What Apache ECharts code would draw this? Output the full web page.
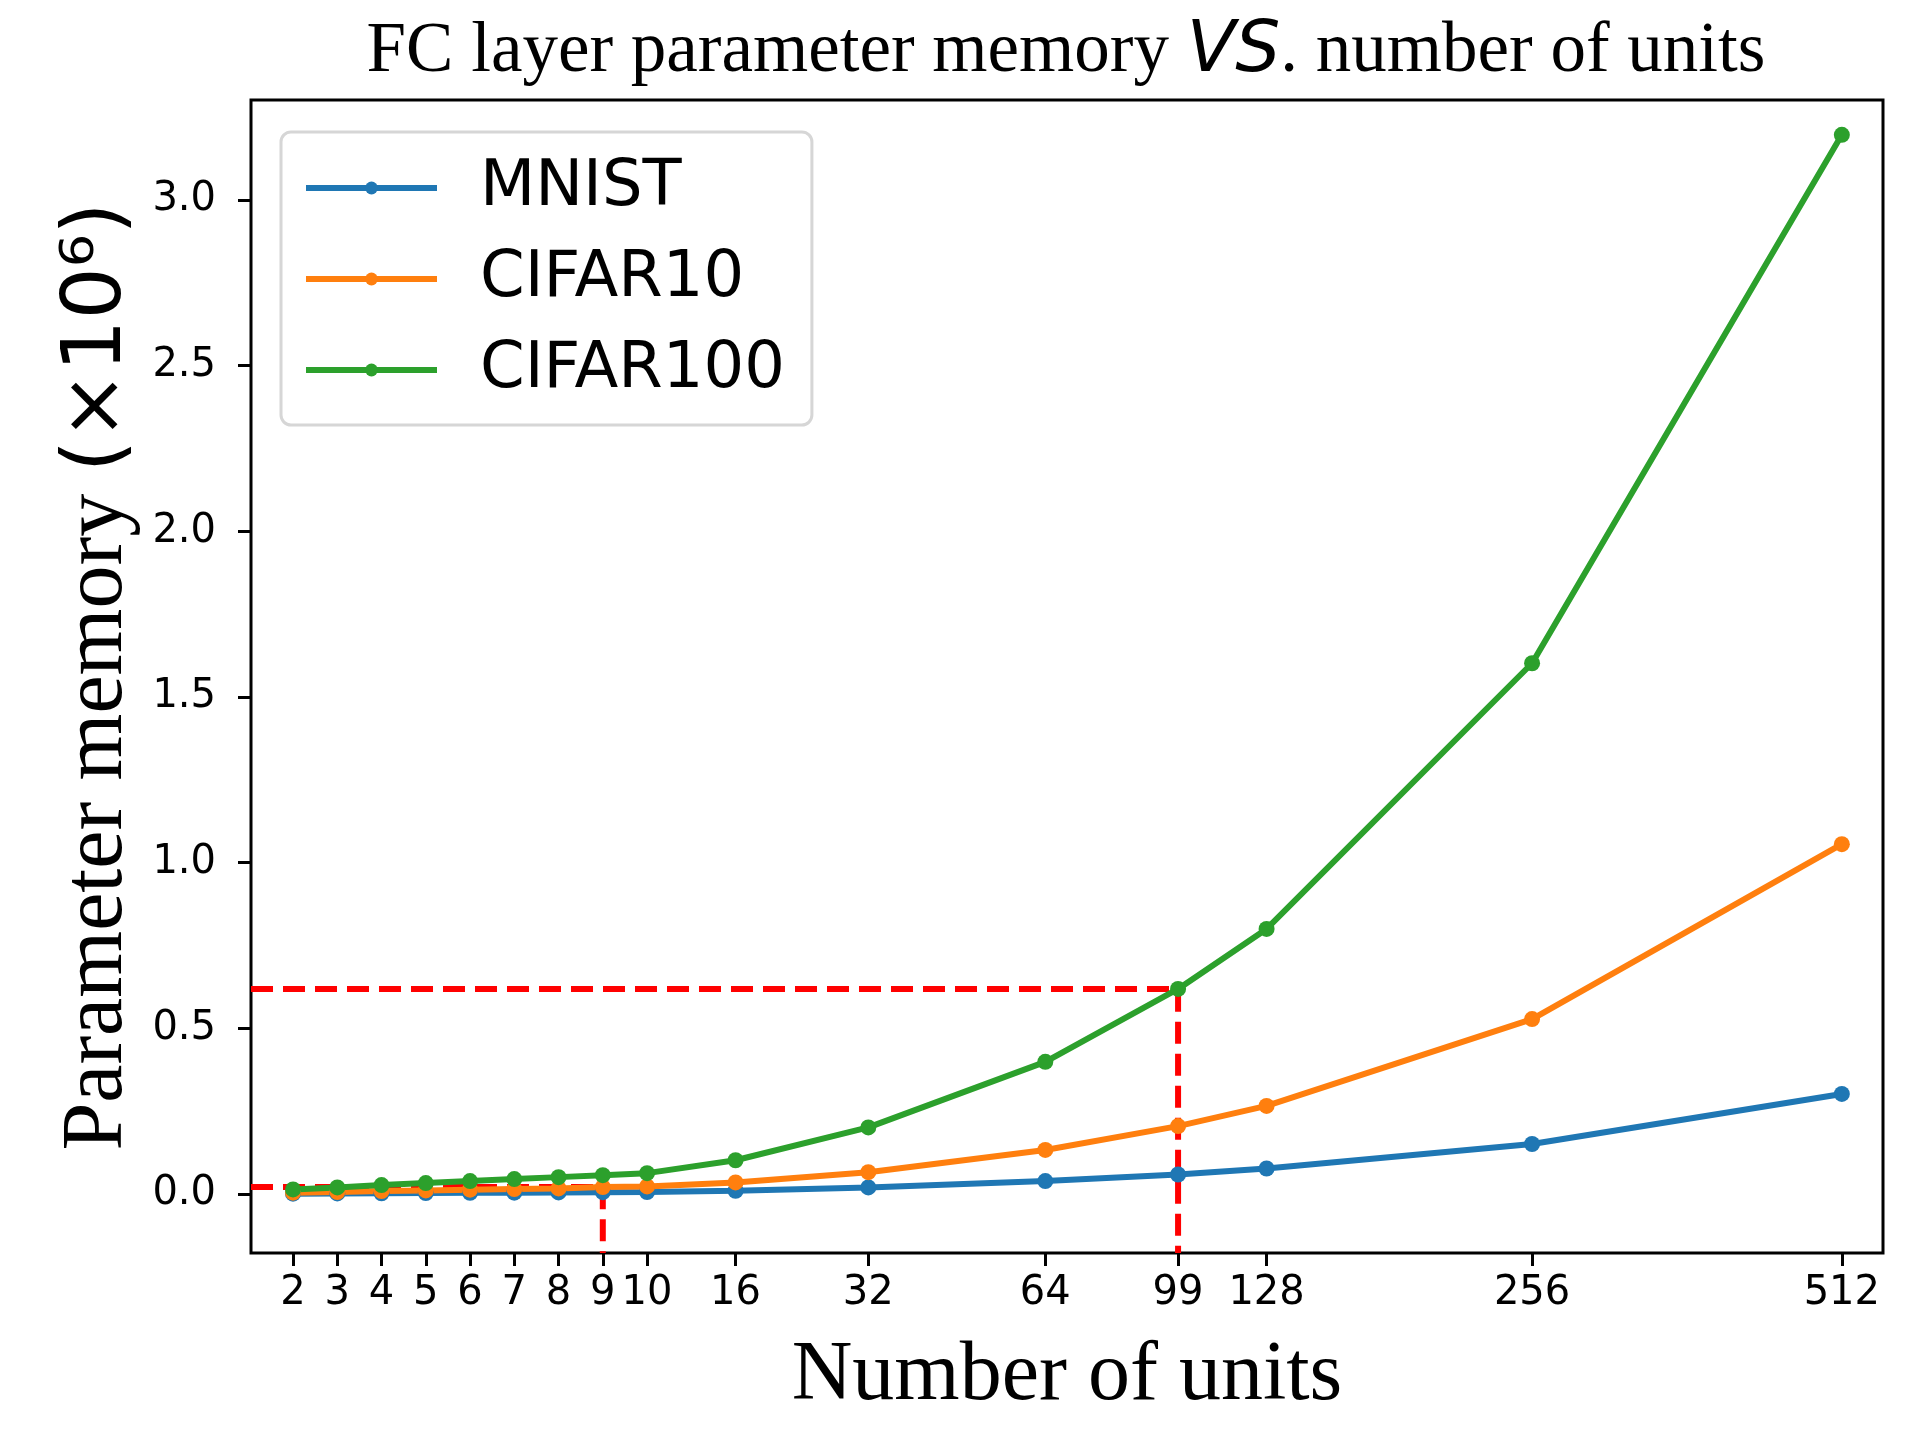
<!DOCTYPE html>
<html>
<head>
<meta charset="utf-8">
<script src="https://cdn.jsdelivr.net/npm/echarts@6/dist/echarts.min.js"></script>
<style>
  html, body { margin: 0; padding: 0; background: #fff; }
  #chart { width: 1920px; height: 1440px; }
</style>
</head>
<body>
<div id="chart"></div>
<script>
// x axis is spaced by slot, not by value: UNIT_POS is where each unit count sits
const UNITS    = [2, 3, 4, 5, 6, 7, 8, 9, 10, 16, 32, 64, 99, 128, 256, 512];
const UNIT_POS = [0, 1, 2, 3, 4, 5, 6, 7, 8, 10, 13, 17, 20, 22, 28, 35];

const MNIST    = [0.0012, 0.0018, 0.0024, 0.003, 0.0036, 0.0042, 0.0048, 0.0055, 0.0062, 0.0098, 0.020, 0.039, 0.059, 0.077, 0.151, 0.302];
const CIFAR10  = [0.004, 0.006, 0.009, 0.011, 0.013, 0.015, 0.017, 0.021, 0.023, 0.035, 0.066, 0.133, 0.205, 0.266, 0.528, 1.056];
const CIFAR100 = [0.014, 0.020, 0.027, 0.033, 0.039, 0.045, 0.051, 0.057, 0.063, 0.102, 0.201, 0.399, 0.619, 0.800, 1.602, 3.197];

const Y_TICKS = [0, 0.5, 1.0, 1.5, 2.0, 2.5, 3.0];

const X_MIN = -0.95, X_MAX = 35.93;
const Y_MIN = -0.178, Y_MAX = 3.302;

const SERIES = [
  { name: 'MNIST',    values: MNIST,    color: '#1f77b4' },
  { name: 'CIFAR10',  values: CIFAR10,  color: '#ff7f0e' },
  { name: 'CIFAR100', values: CIFAR100, color: '#2ca02c' },
];

const SERIF = '"Liberation Serif", "Times New Roman", serif';
const SANS = '"DejaVu Sans", sans-serif';

const pts = vals => vals.map((v, i) => [UNIT_POS[i], v]);
const labelFor = v => {
  const i = UNIT_POS.indexOf(Math.round(v));
  return i >= 0 ? String(UNITS[i]) : '';
};

// dashed L from the y axis to a data point and down to the x axis
function guide(i, vals) {
  const x = UNIT_POS[i], y = vals[i];
  return {
    type: 'line', z: 1, silent: true, symbol: 'none',
    data: [[X_MIN, y], [x, y], [x, Y_MIN]],
    lineStyle: { color: '#ff0000', width: 6, type: [22, 10] },
  };
}

const TICK = { show: true, inside: false, length: 13, lineStyle: { color: '#000', width: 3 } };

const c = echarts.init(document.getElementById('chart'), null, { renderer: 'canvas' });
c.setOption({
  animation: false,
  title: {
    text: '{a|FC layer parameter memory }{b|VS}{a|. number of units}',
    left: 1061, top: 12, textAlign: 'center',
    textStyle: {
      fontWeight: 'normal',
      rich: {
        a: { fontFamily: SERIF, fontSize: 71, fontWeight: 'normal', color: '#000' },
        b: { fontFamily: SANS, fontSize: 71, fontWeight: 'normal', fontStyle: 'italic', color: '#000' },
      },
    },
  },
  grid: {
    left: 251, right: 37, top: 100, bottom: 187,
    show: true, borderColor: '#000', borderWidth: 3, backgroundColor: 'transparent',
  },
  legend: {
    data: SERIES.map(s => s.name),
    orient: 'vertical',
    left: 281, top: 132,
    padding: [24, 27, 23, 22],
    itemWidth: 131, itemHeight: 16, itemGap: 27,
    borderColor: '#d6d6d6', borderWidth: 3, borderRadius: 10,
    backgroundColor: 'rgba(255,255,255,0.8)',
    lineStyle: { width: 6 },
    textStyle: { fontFamily: SANS, fontSize: 64, color: '#000', lineHeight: 64, padding: [0, 0, 0, 38] },
  },
  xAxis: {
    type: 'value', min: X_MIN, max: X_MAX,
    name: 'Number of units', nameLocation: 'middle', nameGap: 82,
    nameTextStyle: { fontFamily: SERIF, fontSize: 84, color: '#000' },
    axisLine: { show: false, onZero: false },
    splitLine: { show: false },
    axisTick: { ...TICK, customValues: UNIT_POS },
    axisLabel: { customValues: UNIT_POS, formatter: labelFor, fontFamily: SANS, fontSize: 40, color: '#000', margin: 21 },
  },
  yAxis: {
    type: 'value', min: Y_MIN, max: Y_MAX,
    name: '{a|Parameter memory }{b|(×10⁶)}', nameLocation: 'middle', nameGap: 109,
    nameTextStyle: {
      rich: {
        a: { fontFamily: SERIF, fontSize: 86, color: '#000' },
        b: { fontFamily: SANS, fontSize: 82, color: '#000' },
      },
    },
    axisLine: { show: false, onZero: false },
    splitLine: { show: false },
    axisTick: { ...TICK, customValues: Y_TICKS },
    axisLabel: { customValues: Y_TICKS, formatter: v => v.toFixed(1), fontFamily: SANS, fontSize: 40, color: '#000', margin: 35 },
  },
  series: [
    guide(7, CIFAR10),
    guide(12, CIFAR100),
    ...SERIES.map(s => ({
      name: s.name, type: 'line', z: 2,
      data: pts(s.values),
      symbol: 'circle', symbolSize: 16, showSymbol: true,
      lineStyle: { color: s.color, width: 6 },
      itemStyle: { color: s.color },
    })),
  ],
});
</script>
</body>
</html>
